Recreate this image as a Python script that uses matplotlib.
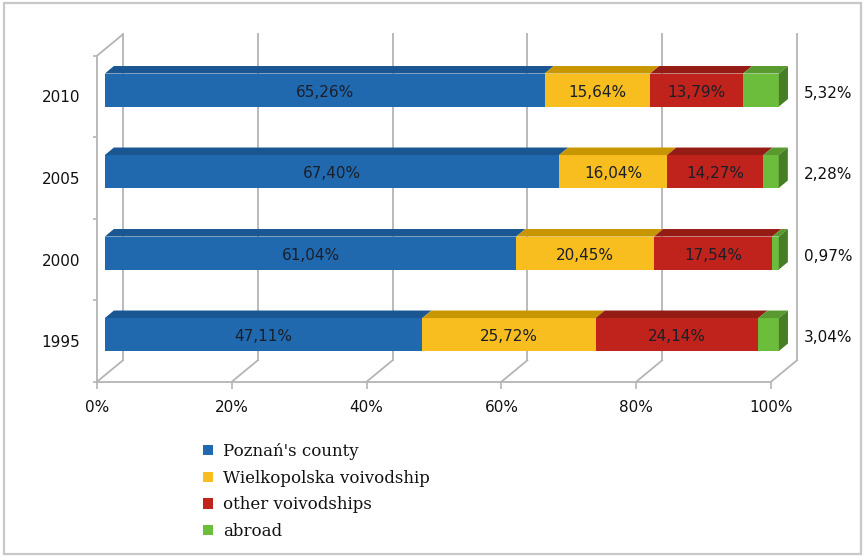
import matplotlib
matplotlib.use("Agg")
import matplotlib.pyplot as plt
from matplotlib.patches import Polygon, Rectangle, Patch
from matplotlib.lines import Line2D
import numpy as np

# ---------------- data ----------------
years = ["1995", "2000", "2005", "2010"]
poznan_county = [47.11, 61.04, 67.40, 65.26]
wielkopolska = [25.72, 20.45, 16.04, 15.64]
other_voiv = [24.14, 17.54, 14.27, 13.79]
abroad = [3.04, 0.97, 2.28, 5.32]

series_names = ["Poznań's county", "Wielkopolska voivodship", "other voivodships", "abroad"]
x_ticks = [0, 20, 40, 60, 80, 100]
x_tick_labels = ["0%", "20%", "40%", "60%", "80%", "100%"]

# ---------------- style ----------------
front_cols = ["#2169AE", "#F8BD1E", "#C0231C", "#6DBD3C"]
top_cols = ["#1A5691", "#C79600", "#951B15", "#589A30"]
side_col = "#467D25"
grid_col = "#B4B4B4"
label_col = "#1A1F2A"

W, H, DPI = 863, 557, 100
fig = plt.figure(figsize=(W / DPI, H / DPI), dpi=DPI)

# front plane geometry (pixels)
x0_px, x1_px = 97, 771
ytop_px, ybot_px = 55.75, 381.75
ax = fig.add_axes([x0_px / W, 1 - ybot_px / H, (x1_px - x0_px) / W, (ybot_px - ytop_px) / H])
ax.set_xlim(0, 100)
ax.set_ylim(-0.5, len(years) - 0.5)
ax.set_autoscale_on(False)
for s in ax.spines.values():
    s.set_visible(False)

# depth vector (full depth) converted to data units
px_per_x = (x1_px - x0_px) / 100.0
px_per_y = (ybot_px - ytop_px) / len(years)
DX = 26 / px_per_x
DY = 21.5 / px_per_y


def d(x, y, t):
    return (x + t * DX, y + t * DY)


ybase, ytopw = -0.5, len(years) - 0.5
lw = 1.3
# back wall gridlines
for v in x_ticks:
    ax.add_line(Line2D(*zip(d(v, ybase, 1), d(v, ytopw, 1)), color=grid_col, lw=lw, clip_on=False, zorder=1))
    # floor lines
    ax.add_line(Line2D(*zip(d(v, ybase, 0), d(v, ybase, 1)), color=grid_col, lw=lw, clip_on=False, zorder=1))
# left wall
ax.add_line(Line2D(*zip(d(0, ybase, 0), d(0, ytopw, 0)), color=grid_col, lw=lw, clip_on=False, zorder=1))
ax.add_line(Line2D(*zip(d(0, ytopw, 0), d(0, ytopw, 1)), color=grid_col, lw=lw, clip_on=False, zorder=1))
# floor front edge
ax.add_line(Line2D(*zip(d(0, ybase, 0), d(100, ybase, 0)), color=grid_col, lw=lw, clip_on=False, zorder=1))

# ticks
ax.set_xticks(x_ticks)
ax.set_xticklabels(x_tick_labels)
ax.set_yticks(range(len(years)))
ax.set_yticklabels(years)
ax.set_yticks(np.arange(-0.5, len(years)), minor=True)
ax.tick_params(axis="x", length=5, width=1.2, color=grid_col, pad=8, labelsize=11, labelcolor="#111111")
ax.tick_params(axis="y", which="major", length=0, pad=12, labelsize=11, labelcolor="#111111")
ax.tick_params(axis="y", which="minor", length=3, width=1.2, color=grid_col)
ax.tick_params(axis="x", which="minor", length=0)

# bars
series = [poznan_county, wielkopolska, other_voiv, abroad]
t0, t1 = 0.3, 0.65
bh = 33 / px_per_y
for i, yr in enumerate(years):
    left = 0.0
    yc = i
    for k, vals in enumerate(series):
        w = vals[i]
        fx, fy = d(left, yc - bh / 2, t0)
        bars = ax.barh(fy + bh / 2, w, left=fx, height=bh, color=front_cols[k], zorder=3, linewidth=0)
        for b in bars:
            b.set_clip_on(False)
        # top face
        top = Polygon([d(left, yc + bh / 2, t0), d(left + w, yc + bh / 2, t0),
                       d(left + w, yc + bh / 2, t1), d(left, yc + bh / 2, t1)],
                      closed=True, facecolor=top_cols[k], edgecolor="none", zorder=3, clip_on=False)
        ax.add_patch(top)
        cx, cy = d(left + w / 2, yc, t0)
        if k < 3:
            ax.text(cx, cy - 0.03, f"{w:.2f}%".replace(".", ","), ha="center", va="center",
                    fontsize=11, color=label_col, zorder=5)
        left += w
    # right side face of the stack
    side = Polygon([d(left, yc - bh / 2, t0), d(left, yc + bh / 2, t0),
                    d(left, yc + bh / 2, t1), d(left, yc - bh / 2, t1)],
                   closed=True, facecolor=side_col, edgecolor="none", zorder=3, clip_on=False)
    ax.add_patch(side)
    # abroad value to the right
    lx, ly = d(108.5 - DX * t0, yc, t0)
    ax.text(lx, ly - 0.04, f"{abroad[i]:.2f}%".replace(".", ","), ha="center", va="center",
            fontsize=11, color="#111111", zorder=5, clip_on=False)

# legend
handles = [Patch(facecolor=c, edgecolor="none") for c in front_cols]
leg = fig.legend(handles, series_names, loc="upper left", bbox_to_anchor=(188 / W, 1 - 428 / H),
                 frameon=False, handlelength=0.6, handleheight=0.6, handletextpad=0.6,
                 labelspacing=0.58, prop={"family": "DejaVu Serif", "size": 12})
for t in leg.get_texts():
    t.set_color("#111111")

# figure border
fig.patches.append(Rectangle((4 / W, 3 / H), (861 - 4) / W, (554 - 3) / H, transform=fig.transFigure,
                             fill=False, edgecolor="#C8C8C8", linewidth=1.6))

fig.savefig("out.png", dpi=DPI)
